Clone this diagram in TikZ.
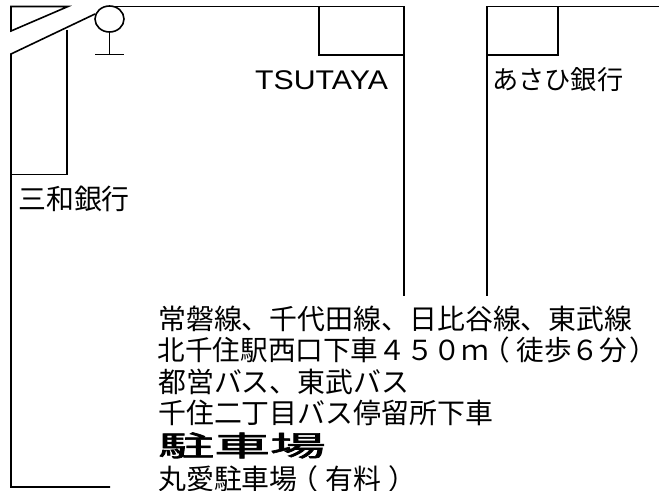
\documentclass[tikz,border=0pt]{standalone}
\usepackage{fontspec}
\usetikzlibrary{shapes.geometric}
\newfontfamily\jp{Noto Sans CJK JP}
\newfontfamily\jpb[FakeBold=2]{Noto Sans CJK JP}
\setmainfont{Liberation Sans}
\newcommand{\lpar}{\kern-0.25em （\kern0.25em}
\newcommand{\rpar}{\kern0.25em ）\kern-0.25em}
\tikzset{
  wall/.style={draw=black,line width=1.6bp,line cap=butt,line join=miter},
  lbl/.style={inner sep=0pt,anchor=base west,font=\jp\fontsize{27.9bp}{32bp}\selectfont,text=black},
}
\begin{document}
\begin{tikzpicture}[x=1bp,y=-1bp]
\useasboundingbox (0,0) rectangle (659,491);
\fill[white] (0,0) rectangle (659,491);
\coordinate (a1) at (68,6.5);
\coordinate (a2) at (11,6.5);
\coordinate (a3) at (11,31);
\draw[wall] (a1)--(a2)--(a3)--cycle;
\draw[wall] (95,14)--(11,54)--(11,487)--(110,487);
\draw[wall] (67,30)--(67,174.5)--(11,174.5);
\node[draw=black,line width=1.6bp,ellipse,minimum width=29bp,minimum height=26bp,inner sep=0pt] (lamp) at (109.5,19) {};
\draw[wall] (lamp.south)--(109.5,54.5);
\draw[wall] (95,54.5)--(124,54.5);
\draw[wall] (108,6.5)--(404,6.5)--(404,296);
\draw[wall] (319,6.5)--(319,55)--(404,55);
\draw[wall] (659,6.5)--(487,6.5)--(487,296);
\draw[wall] (558,6.5)--(558,55)--(487,55);
\node[lbl] (t1) at (18,210) {三和銀行};
\node[lbl,font=\fontsize{27bp}{32bp}\selectfont,xscale=1.12,transform shape] (t2) at (255,90) {TSUTAYA};
\node[lbl,font=\jp\fontsize{26.2bp}{32bp}\selectfont] (t3) at (492,90) {あさひ銀行};
\node[lbl] (l1) at (158,329) {常磐線、千代田線、日比谷線、東武線};
\node[lbl,font=\jp\fontsize{27.6bp}{32bp}\selectfont] (l2) at (157.5,360) {北千住駅西口下車４５０ｍ\lpar 徒歩６分\kern0.1em ）};
\node[lbl] (l3) at (158,392) {都営バス、東武バス};
\node[lbl] (l4) at (158,423) {千住二丁目バス停留所下車};
\node[lbl,font=\jpb\fontsize{27.9bp}{32bp}\selectfont,xscale=2,transform shape] (l5) at (158,456) {駐車場};
\node[lbl] (l6) at (158,489) {丸愛駐車場\lpar 有料\rpar};
\end{tikzpicture}
\end{document}
